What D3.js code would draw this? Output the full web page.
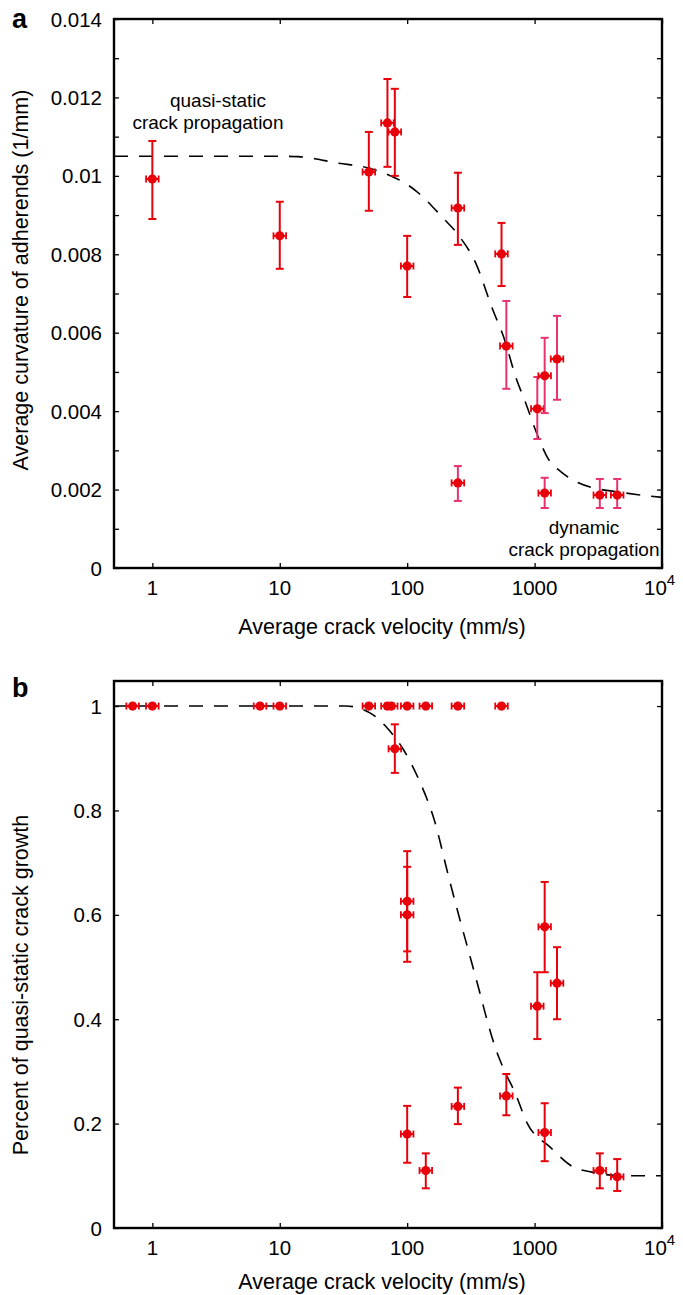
<!DOCTYPE html>
<html>
<head>
<meta charset="utf-8">
<script src="https://cdn.jsdelivr.net/npm/d3@7"></script>
<style>
  body { margin: 0; background: #fff; }
  svg { display: block; font-family: "Liberation Sans", Arial, Helvetica, sans-serif; }
</style>
</head>
<body>
<div id="chart"></div>
<script>
// ---- panel a: curvature vs velocity ----
const velA   = [1, 10, 50, 70, 80, 100, 250, 250, 550, 600, 1050, 1200, 1200, 1500, 3250, 4450];
const curvA  = [0.00992, 0.00847, 0.0101, 0.01135, 0.01112, 0.0077, 0.00918, 0.00217, 0.00801, 0.00566, 0.00406, 0.0049, 0.00191, 0.00533, 0.00186, 0.00186];
const curvLoA = [0.0089, 0.00763, 0.00911, 0.01023, 0.0100, 0.00691, 0.00824, 0.00171, 0.00719, 0.00457, 0.00329, 0.00395, 0.00153, 0.00429, 0.00153, 0.00153];
const curvHiA = [0.01089, 0.00934, 0.01112, 0.01247, 0.01222, 0.00847, 0.01008, 0.0026, 0.0088, 0.00681, 0.00487, 0.00587, 0.0023, 0.00643, 0.00227, 0.00227];
const batchA = [0, 0, 0, 0, 0, 0, 0, 1, 0, 1, 1, 1, 1, 1, 1, 1];
const fitVelA  = [0.5, 1, 3, 10, 14, 29, 50, 74, 100, 124, 188, 251, 348, 464, 576, 716, 842, 1027, 1276, 1614, 2115, 2826, 4276, 6486, 10000];
const fitCurvA = [0.0105, 0.0105, 0.0105, 0.0105, 0.01049, 0.01032, 0.0102, 0.01, 0.00978, 0.00955, 0.00895, 0.0085, 0.00775, 0.00663, 0.00586, 0.00484, 0.00425, 0.00348, 0.00279, 0.00245, 0.0022, 0.00205, 0.00195, 0.00187, 0.0018];

// ---- panel b: percent quasi-static growth vs velocity ----
const velB   = [0.7, 1, 7, 10, 50, 70, 75, 100, 140, 250, 550, 80, 100, 100, 1050, 1200, 1500, 100, 140, 250, 600, 1200, 3250, 4450];
const pctB   = [1, 1, 1, 1, 1, 1, 1, 1, 1, 1, 1, 0.918, 0.626, 0.600, 0.425, 0.577, 0.469, 0.180, 0.110, 0.233, 0.253, 0.183, 0.110, 0.098];
const pctLoB = [1, 1, 1, 1, 1, 1, 1, 1, 1, 1, 1, 0.872, 0.530, 0.510, 0.362, 0.490, 0.400, 0.125, 0.076, 0.199, 0.216, 0.128, 0.076, 0.071];
const pctHiB = [1, 1, 1, 1, 1, 1, 1, 1, 1, 1, 1, 0.965, 0.722, 0.692, 0.490, 0.663, 0.538, 0.234, 0.143, 0.269, 0.295, 0.239, 0.143, 0.132];
const fitVelB = [0.5, 10, 33, 51, 72, 91, 124, 163, 213, 256, 306, 367, 424, 499, 576, 703, 874, 1324, 2004, 2826, 4853, 10000];
const fitPctB = [1, 1, 1, 0.987, 0.954, 0.921, 0.858, 0.782, 0.67, 0.596, 0.527, 0.456, 0.398, 0.341, 0.303, 0.259, 0.201, 0.155, 0.117, 0.107, 0.100, 0.100];

const velRelErr = 0.12;           // relative velocity uncertainty (x error bars)
const xTicks = [1, 10, 100, 1000, 10000];

const W = 683, H = 1295;
const red = "#e8000b", pink = "#e8336e";

const svg = d3.select("#chart").append("svg")
    .attr("width", W)
    .attr("height", H);

function drawPanel(cfg) {
    const g = svg.append("g");
    const x = d3.scaleLog().domain([0.5, 10000]).range([cfg.left, cfg.right]);
    const y = d3.scaleLinear().domain(cfg.yDomain).range([cfg.bottom, cfg.top]);

    // inward ticks on all four sides
    g.append("g")
        .attr("transform", `translate(0,${cfg.bottom})`)
        .call(d3.axisTop(x).tickValues(xTicks).tickSize(5).tickFormat(""))
        .call(a => a.select(".domain").remove());
    g.append("g")
        .attr("transform", `translate(0,${cfg.top})`)
        .call(d3.axisBottom(x).tickValues(xTicks).tickSize(5).tickFormat(""))
        .call(a => a.select(".domain").remove());
    g.append("g")
        .attr("transform", `translate(${cfg.left},0)`)
        .call(d3.axisRight(y).tickValues(cfg.yMinor).tickSize(5).tickFormat(""))
        .call(a => a.select(".domain").remove());
    g.append("g")
        .attr("transform", `translate(${cfg.right},0)`)
        .call(d3.axisLeft(y).tickValues(cfg.yMinor).tickSize(5).tickFormat(""))
        .call(a => a.select(".domain").remove());
    g.selectAll(".tick line").attr("stroke", "#000").attr("stroke-width", 1.3);

    // frame
    g.append("rect")
        .attr("x", cfg.left).attr("y", cfg.top)
        .attr("width", cfg.right - cfg.left).attr("height", cfg.bottom - cfg.top)
        .attr("fill", "none").attr("stroke", "#000").attr("stroke-width", 2.4);

    // y tick labels
    g.selectAll(".ylab").data(cfg.yMajor).enter().append("text")
        .attr("x", cfg.left - 12)
        .attr("y", d => y(d) + 7.5)
        .attr("text-anchor", "end")
        .attr("font-size", 20.5)
        .text(d => d3.format("~g")(+d.toFixed(4)));

    // x tick labels
    const xl = g.selectAll(".xlab").data(xTicks).enter().append("text")
        .attr("x", d => x(d))
        .attr("y", cfg.xLabelY)
        .attr("text-anchor", "middle")
        .attr("font-size", 20.5);
    xl.filter(d => d < 10000).text(d => d);
    xl.filter(d => d === 10000).each(function () {
        const t = d3.select(this);
        t.append("tspan").text("10");
        t.append("tspan").attr("dy", -10).attr("font-size", 15).text("4");
        t.attr("text-anchor", "start").attr("x", x(10000) - 18);
    });

    // axis titles
    g.append("text")
        .attr("x", 382)
        .attr("y", cfg.xTitleY)
        .attr("text-anchor", "middle")
        .attr("font-size", 21.5)
        .text("Average crack velocity (mm/s)");
    g.append("text")
        .attr("transform", `translate(28,${cfg.yTitleMid}) rotate(-90)`)
        .attr("text-anchor", "middle")
        .attr("font-size", 21.5)
        .text(cfg.yTitle);

    // panel letter
    g.append("text")
        .attr("x", 12).attr("y", cfg.letterY)
        .attr("font-size", 27).attr("font-weight", "bold")
        .text(cfg.letter);

    // dashed fit
    const line = d3.line()
        .x(d => x(d[0]))
        .y(d => y(d[1]))
        .curve(d3.curveMonotoneX);
    g.append("path")
        .datum(d3.zip(cfg.fitX, cfg.fitY))
        .attr("d", line)
        .attr("fill", "none")
        .attr("stroke", "#000")
        .attr("stroke-width", 1.6)
        .attr("stroke-dasharray", "14,11");

    // error bars + markers
    const pts = cfg.vx.map((v, i) => ({
        v, val: cfg.vy[i], lo: cfg.lo[i], hi: cfg.hi[i], grp: cfg.grp ? cfg.grp[i] : 0
    }));
    const eg = g.append("g");
    const cap = 4;
    pts.forEach(p => {
        const px = x(p.v), py = y(p.val);
        const col = p.grp ? pink : red;
        if (p.hi > p.lo) {
            eg.append("line").attr("x1", px).attr("x2", px)
                .attr("y1", y(p.lo)).attr("y2", y(p.hi))
                .attr("stroke", col).attr("stroke-width", 2);
            [p.lo, p.hi].forEach(e => eg.append("line")
                .attr("x1", px - cap).attr("x2", px + cap)
                .attr("y1", y(e)).attr("y2", y(e))
                .attr("stroke", col).attr("stroke-width", 2));
        }
        const x0 = x(p.v / (1 + velRelErr)), x1 = x(p.v * (1 + velRelErr));
        eg.append("line").attr("x1", x0).attr("x2", x1)
            .attr("y1", py).attr("y2", py)
            .attr("stroke", red).attr("stroke-width", 2);
        [x0, x1].forEach(e => eg.append("line")
            .attr("x1", e).attr("x2", e)
            .attr("y1", py - 3.5).attr("y2", py + 3.5)
            .attr("stroke", red).attr("stroke-width", 1.8));
    });
    eg.selectAll("circle").data(pts).enter().append("circle")
        .attr("cx", d => x(d.v))
        .attr("cy", d => y(d.val))
        .attr("r", 4.6)
        .attr("fill", red);

    return { g, x, y };
}

const pa = drawPanel({
    letter: "a", letterY: 28,
    left: 114, right: 662, top: 19, bottom: 568,
    yDomain: [0, 0.014],
    yMajor: d3.range(0, 0.01401, 0.002),
    yMinor: d3.range(0, 0.01401, 0.001),
    xLabelY: 595, xTitleY: 634,
    yTitle: "Average curvature of adherends (1/mm)", yTitleMid: 280,
    fitX: fitVelA, fitY: fitCurvA,
    vx: velA, vy: curvA, lo: curvLoA, hi: curvHiA, grp: batchA
});

[["quasi-static", 218, 107], ["crack propagation", 208, 129],
 ["dynamic", 584, 534], ["crack propagation", 584, 556]].forEach(([t, xx, yy]) => {
    pa.g.append("text")
        .attr("x", xx).attr("y", yy)
        .attr("text-anchor", "middle")
        .attr("font-size", 19)
        .text(t);
});

drawPanel({
    letter: "b", letterY: 697,
    left: 114, right: 662, top: 681, bottom: 1228,
    yDomain: [0, 1.048],
    yMajor: d3.range(0, 1.01, 0.2),
    yMinor: d3.range(0, 1.01, 0.2),
    xLabelY: 1255, xTitleY: 1289,
    yTitle: "Percent of quasi-static crack growth", yTitleMid: 985,
    fitX: fitVelB, fitY: fitPctB,
    vx: velB, vy: pctB, lo: pctLoB, hi: pctHiB
});
</script>
</body>
</html>
